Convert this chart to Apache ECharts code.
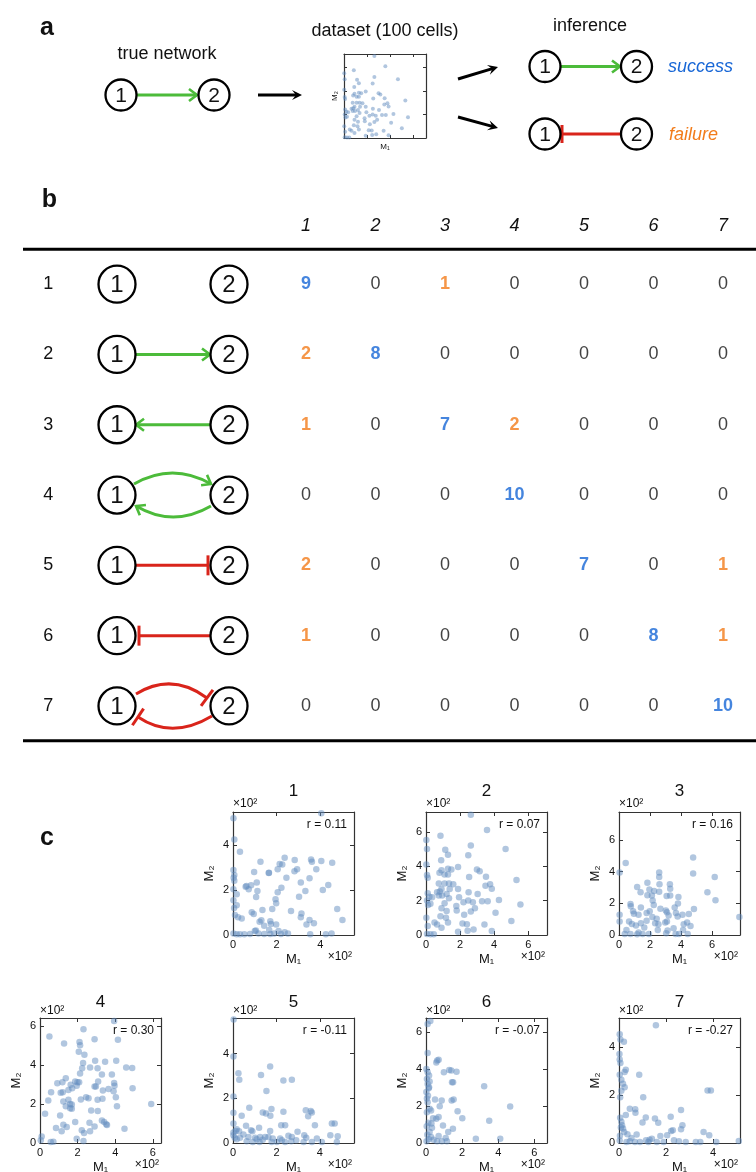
<!DOCTYPE html>
<html>
<head>
<meta charset="utf-8">
<script src="https://cdn.jsdelivr.net/npm/echarts@6/dist/echarts.min.js"></script>
<style>
html, body { margin: 0; padding: 0; background: #fff; }
#main { width: 756px; height: 1172px; }
</style>
</head>
<body>
<div id="main"></div>
<script>
// true networks (rows) and inferred networks (columns)
var netNames = ["1", "2", "3", "4", "5", "6", "7"];
var colNames = ["1", "2", "3", "4", "5", "6", "7"];
// how often each network was inferred (10 datasets per true network)
var counts = [
  [9, 0, 1, 0, 0, 0, 0],
  [2, 8, 0, 0, 0, 0, 0],
  [1, 0, 7, 2, 0, 0, 0],
  [0, 0, 0, 10, 0, 0, 0],
  [2, 0, 0, 0, 7, 0, 1],
  [1, 0, 0, 0, 0, 8, 1],
  [0, 0, 0, 0, 0, 0, 10]
];
var rValues = ["0.11", "0.07", "0.16", "0.30", "-0.11", "-0.07", "-0.27"];

// [M1, M2] in units of 10^2, one list per network
var cells1 = [[4.05,5.41],[0.02,5.19],[0.06,4.25],[0.32,3.70],[1.26,3.26],[2.37,3.44],[2.14,3.16],[2.26,3.14],[2.83,3.33],[3.58,3.36],[3.62,3.26],[4.05,3.29],[4.55,3.21],[0.02,2.89],[0.06,2.67],[0.97,2.80],[1.65,2.77],[1.64,2.76],[2.05,2.92],[2.94,2.92],[2.82,2.84],[2.45,2.55],[3.82,2.92],[3.51,2.52],[0.06,2.41],[0.58,2.15],[0.62,2.18],[0.83,2.21],[0.72,2.03],[1.09,2.33],[1.12,1.96],[2.22,2.10],[2.05,1.90],[3.11,2.34],[3.32,1.96],[4.37,2.22],[4.12,2.00],[0.02,2.03],[0.17,1.81],[1.06,1.69],[1.95,1.59],[1.98,1.41],[3.03,1.70],[1.80,1.16],[1.35,1.11],[0.17,1.32],[0.86,1.01],[0.95,0.93],[2.66,1.07],[3.14,0.96],[3.11,0.79],[4.78,1.16],[5.02,0.67],[0.09,0.89],[0.23,0.79],[0.40,0.73],[1.22,0.59],[1.30,0.66],[1.43,0.41],[1.71,0.61],[1.74,0.49],[1.98,0.47],[1.66,0.22],[1.00,0.18],[1.05,0.20],[2.09,0.18],[2.37,0.12],[2.52,0.07],[3.37,0.47],[3.51,0.67],[3.71,0.52],[0.02,0.07],[0.17,0.03],[0.32,0.03],[0.52,0.03],[0.78,0.04],[1.17,0.07],[1.43,0.04],[1.71,0.04],[1.89,0.07],[2.20,0.04],[3.54,0.03],[4.26,0.03],[4.52,0.07],[0.02,1.55],[0.05,1.20],[0.03,2.55]];
var cells2 = [[2.63,6.99],[3.58,6.10],[0.85,5.77],[0.02,5.52],[0.06,5.00],[1.13,4.95],[1.29,4.67],[2.63,5.20],[2.48,4.63],[4.67,5.00],[0.89,4.34],[0.02,4.10],[1.88,3.96],[1.29,3.85],[1.49,3.81],[0.91,3.77],[0.79,3.62],[1.09,3.52],[1.29,3.52],[0.06,3.49],[0.10,3.33],[2.53,3.37],[2.99,3.81],[3.15,3.71],[3.52,3.39],[3.49,2.86],[3.76,2.95],[3.86,2.69],[5.31,3.20],[0.75,2.99],[1.09,2.99],[1.35,2.99],[1.60,2.95],[1.88,2.67],[1.39,2.67],[0.91,2.67],[0.65,2.48],[0.81,2.53],[0.75,2.29],[0.95,2.29],[1.21,2.38],[0.10,2.42],[0.20,2.23],[0.36,2.19],[0.06,2.00],[0.26,1.81],[0.12,1.75],[1.35,2.13],[1.09,1.85],[0.91,1.56],[1.78,1.68],[1.80,1.43],[1.94,2.19],[2.50,2.48],[3.03,2.38],[2.48,2.00],[2.20,1.90],[2.75,1.90],[2.87,1.56],[2.63,1.37],[3.29,1.96],[3.62,1.96],[4.28,2.04],[5.54,1.77],[4.08,1.30],[2.24,1.18],[1.21,1.39],[0.85,1.09],[1.17,1.01],[1.29,0.72],[0.02,1.01],[0.50,0.72],[0.65,0.61],[0.91,0.42],[0.10,0.53],[2.14,0.67],[2.40,0.63],[3.43,0.61],[5.01,0.82],[1.88,0.19],[2.44,0.25],[2.79,0.32],[3.86,0.23],[0.06,0.06],[0.26,0.05],[0.46,0.04]];
var cells3 = [[0.43,4.53],[0.04,3.94],[4.78,4.89],[4.78,3.87],[6.17,3.66],[5.70,2.70],[6.22,2.19],[7.76,1.13],[2.59,3.94],[2.59,3.66],[2.61,3.19],[3.28,3.19],[3.30,2.91],[1.83,3.30],[1.17,3.02],[1.96,2.87],[2.26,2.77],[2.59,2.72],[1.39,2.70],[1.83,2.51],[2.12,2.49],[3.07,2.45],[3.30,2.49],[3.83,2.40],[2.17,2.17],[2.24,1.89],[0.74,1.96],[0.76,1.81],[1.41,1.74],[3.80,1.98],[3.59,1.74],[2.67,1.66],[3.02,1.55],[4.83,1.64],[1.98,1.49],[1.78,1.38],[0.91,1.49],[0.96,1.34],[1.26,1.28],[0.04,1.28],[3.09,1.43],[3.67,1.38],[4.09,1.28],[4.50,1.32],[3.78,1.17],[3.20,1.23],[2.15,1.13],[2.43,1.02],[2.33,0.74],[2.54,0.68],[2.98,0.79],[3.09,0.85],[1.78,0.89],[0.65,0.85],[0.83,0.70],[1.09,0.60],[0.04,0.85],[1.41,0.74],[4.39,0.79],[4.61,0.57],[4.17,0.68],[0.48,0.32],[1.63,0.47],[2.50,0.32],[3.13,0.28],[4.13,0.32],[3.52,0.43],[1.26,0.15],[0.37,0.06],[0.74,0.06],[1.17,0.04],[1.52,0.06],[1.93,0.06],[3.04,0.11],[3.65,0.06],[3.87,0.06],[4.43,0.06]];
var cells4 = [[3.94,6.28],[2.31,5.85],[0.50,5.48],[2.90,5.34],[4.14,5.31],[1.28,5.12],[2.10,5.20],[2.13,5.03],[2.06,4.69],[2.36,4.54],[2.29,4.11],[2.93,4.23],[3.46,4.18],[4.05,4.23],[2.24,3.84],[2.66,3.89],[3.06,3.84],[4.58,3.89],[4.90,3.86],[2.13,3.58],[3.29,3.52],[3.82,3.52],[1.37,3.33],[1.19,3.12],[0.92,3.07],[1.87,3.16],[1.99,3.12],[2.08,3.12],[1.63,2.99],[1.95,2.95],[3.09,3.16],[3.94,3.09],[3.96,2.95],[2.90,2.90],[2.97,2.90],[1.71,2.82],[1.51,2.73],[1.21,2.61],[1.10,2.58],[0.59,2.61],[3.64,2.78],[3.34,2.70],[3.91,2.66],[4.92,2.82],[4.03,2.35],[3.32,2.27],[3.06,2.22],[2.58,2.30],[2.45,2.35],[2.17,2.24],[0.44,2.18],[1.24,2.13],[1.51,2.22],[1.60,2.01],[1.69,1.98],[4.09,1.89],[5.91,2.01],[1.37,1.89],[1.60,1.79],[1.69,1.76],[0.27,1.50],[1.07,1.42],[2.72,1.67],[3.07,1.64],[3.29,1.16],[3.41,1.08],[3.52,0.96],[3.56,0.93],[1.87,1.08],[2.63,1.04],[1.24,0.94],[1.42,0.82],[0.85,0.77],[1.15,0.61],[2.90,0.85],[4.49,0.73],[2.22,0.65],[2.34,0.51],[2.66,0.60],[1.95,0.22],[2.31,0.10],[0.57,0.05],[0.71,0.07],[0.09,0.34],[0.04,0.14]];
var cells5 = [[0.03,5.53],[0.02,3.88],[0.25,3.13],[0.29,2.83],[1.71,3.43],[1.29,3.05],[2.32,2.80],[2.71,2.83],[1.54,2.33],[0.02,2.08],[0.75,1.58],[0.02,1.35],[1.37,1.37],[1.52,1.32],[1.77,1.52],[1.72,1.22],[2.32,1.40],[3.35,1.47],[3.58,1.43],[3.63,1.37],[3.46,1.20],[0.40,1.22],[0.02,0.87],[0.60,0.77],[0.17,0.62],[0.12,0.54],[0.28,0.53],[0.02,0.47],[0.83,0.57],[0.89,0.53],[1.20,0.68],[1.71,0.54],[2.22,0.80],[2.40,0.80],[3.77,0.80],[4.55,0.87],[4.68,0.87],[2.97,0.50],[2.55,0.32],[2.71,0.27],[3.28,0.35],[3.37,0.23],[4.48,0.35],[4.82,0.30],[3.86,0.20],[0.02,0.35],[0.08,0.23],[0.17,0.17],[0.48,0.38],[0.32,0.23],[0.71,0.27],[1.02,0.24],[1.09,0.17],[1.25,0.27],[1.48,0.27],[1.63,0.27],[1.37,0.15],[1.83,0.20],[2.17,0.20],[2.25,0.12],[2.68,0.08],[2.91,0.12],[3.63,0.05],[0.63,0.08],[0.91,0.05],[1.22,0.05],[1.78,0.05],[2.02,0.05],[2.40,0.05],[3.25,0.05],[4.09,0.05],[4.78,0.05]];
var cells6 = [[0.24,6.59],[0.09,6.42],[0.09,4.86],[0.57,4.35],[0.70,4.50],[0.62,4.45],[0.99,3.82],[1.29,3.94],[1.40,3.91],[1.69,3.85],[1.44,3.28],[1.50,3.28],[3.22,3.06],[0.02,4.00],[0.09,3.82],[0.17,3.64],[0.05,3.46],[0.20,3.32],[0.09,3.19],[0.17,3.01],[0.50,2.35],[0.87,2.29],[1.42,2.29],[1.53,2.35],[0.76,1.99],[0.09,2.20],[0.20,1.85],[0.28,1.76],[0.05,1.66],[4.66,1.97],[1.75,1.72],[2.01,1.34],[0.39,1.34],[0.57,1.31],[0.70,1.40],[3.50,1.20],[0.94,0.95],[0.33,0.82],[1.49,0.77],[1.23,0.59],[0.70,0.38],[1.09,0.27],[2.76,0.23],[4.11,0.23],[0.20,0.59],[0.28,0.32],[0.15,0.20],[0.42,0.18],[0.61,0.09],[0.88,0.09],[1.16,0.09],[0.02,2.75],[0.11,2.55],[0.05,2.40],[0.13,1.10],[0.04,0.90],[0.07,0.45],[0.03,0.10],[0.30,1.05],[0.15,2.95]];
var cells7 = [[1.57,4.90],[0.03,4.52],[0.06,4.31],[0.21,4.21],[0.02,3.70],[0.03,3.47],[0.06,3.33],[0.29,3.05],[0.24,2.95],[0.03,2.84],[0.86,2.84],[0.10,2.63],[0.17,2.46],[0.24,2.32],[0.10,2.17],[3.77,2.18],[3.91,2.18],[1.03,1.90],[0.46,1.43],[0.69,1.40],[0.70,1.26],[0.29,1.16],[0.05,1.05],[0.10,0.88],[0.13,0.74],[1.14,1.06],[1.00,0.85],[1.53,1.02],[1.67,0.84],[2.20,1.09],[2.64,1.37],[2.70,0.74],[2.64,0.57],[2.29,0.53],[2.22,0.50],[3.60,0.46],[3.84,0.32],[0.17,0.60],[0.22,0.46],[0.36,0.36],[0.75,0.35],[0.53,0.21],[1.76,0.29],[2.05,0.32],[1.40,0.18],[1.30,0.14],[1.15,0.11],[2.34,0.11],[2.55,0.07],[5.10,0.08],[0.03,0.10],[0.32,0.04],[0.46,0.07],[0.68,0.04],[0.89,0.04],[1.25,0.04],[1.61,0.04],[1.90,0.04],[2.84,0.04],[3.27,0.04],[3.46,0.04],[4.14,0.04],[0.05,1.90],[0.04,0.30],[0.08,0.65]];

var allCells = [cells1, cells2, cells3, cells4, cells5, cells6, cells7];
// axis maxima [M1, M2] for each panel
var ranges = [[5.55, 5.47], [7.1, 7.15], [7.8, 7.75], [6.43, 6.43], [5.57, 5.6], [6.7, 6.75], [5.15, 5.2]];

var FONT = '"Liberation Sans", "Helvetica Neue", Arial, sans-serif';
var GREEN = "#4cbb3a", RED = "#d9241b", BLUE = "#1766d6", ORANGE = "#f27c1a";
var DOT = "rgba(98,139,190,0.62)";

var grids = [], xAxes = [], yAxes = [], series = [], g = [];

function intLabel(v) {
  return Math.abs(v - Math.round(v)) < 1e-6 ? String(v) : "";
}

// scatter box with ticks on all four sides
function addPlot(data, box, range, small) {
  var gi = grids.length;
  grids.push({ left: box[0], top: box[1], width: box[2], height: box[3], show: false, outerBoundsMode: "none" });
  var axLine = { show: true, onZero: false, lineStyle: { color: "#333", width: 1.2 } };
  var tick = { show: true, inside: true, length: small ? 3 : 4, lineStyle: { color: "#333", width: 1 } };
  var lbl = small ? { show: false } : {
    show: true, fontSize: 11, color: "#111", fontFamily: FONT, margin: 4,
    showMaxLabel: false, formatter: intLabel
  };
  var nameStyle = { fontSize: small ? 8 : 13, color: "#111", fontFamily: FONT };
  var xi = xAxes.length;
  xAxes.push({
    gridIndex: gi, type: "value", position: "bottom", min: 0, max: range[0], interval: 2,
    axisLine: axLine, axisTick: tick, axisLabel: lbl, splitLine: { show: false },
    name: "M₁", nameLocation: "middle", nameGap: small ? 5 : 18, nameTextStyle: nameStyle
  });
  xAxes.push({
    gridIndex: gi, type: "value", position: "top", min: 0, max: range[0], interval: 2,
    axisLine: axLine, axisTick: tick, axisLabel: { show: false }, splitLine: { show: false }
  });
  var yi = yAxes.length;
  yAxes.push({
    gridIndex: gi, type: "value", position: "left", min: 0, max: range[1], interval: 2,
    axisLine: axLine, axisTick: tick, axisLabel: lbl, splitLine: { show: false },
    name: "M₂", nameLocation: "middle", nameRotate: 90, nameGap: small ? 5 : 17, nameTextStyle: nameStyle
  });
  yAxes.push({
    gridIndex: gi, type: "value", position: "right", min: 0, max: range[1], interval: 2,
    axisLine: axLine, axisTick: tick, axisLabel: { show: false }, splitLine: { show: false }
  });
  series.push({
    type: "scatter", xAxisIndex: xi, yAxisIndex: yi, data: data,
    symbolSize: small ? 4 : 6.5, itemStyle: { color: DOT }, silent: true
  });
}

// ---------- drawing helpers ----------
function text(x, y, s, font, fill, align) {
  g.push({
    type: "text", x: x, y: y, z: 20, silent: true,
    style: {
      text: s, font: font, fill: fill || "#111",
      align: align || "center", verticalAlign: "middle",
      textAlign: align || "center", textVerticalAlign: "middle"
    }
  });
}
function node(cx, cy, r, label, fs) {
  g.push({ type: "circle", z: 10, silent: true, shape: { cx: cx, cy: cy, r: r },
    style: { fill: "#fff", stroke: "#000", lineWidth: 2.3 } });
  text(cx, cy + 1, label, fs + "px " + FONT);
}
function line(pts, color, w) {
  g.push({ type: "polyline", z: 5, silent: true, shape: { points: pts },
    style: { stroke: color, lineWidth: w, fill: null } });
}
function curve(p0, c, p1, color) {
  g.push({ type: "bezierCurve", z: 5, silent: true,
    shape: { x1: p0[0], y1: p0[1], cpx1: c[0], cpy1: c[1], x2: p1[0], y2: p1[1] },
    style: { stroke: color, lineWidth: 3, fill: null } });
}
function unit(d) {
  var l = Math.sqrt(d[0] * d[0] + d[1] * d[1]);
  return [d[0] / l, d[1] / l];
}
function vHead(tip, dir, color) {
  var d = unit(dir), n = [-d[1], d[0]], L = 8, W = 6;
  line([[tip[0] - L * d[0] + W * n[0], tip[1] - L * d[1] + W * n[1]], tip,
        [tip[0] - L * d[0] - W * n[0], tip[1] - L * d[1] - W * n[1]]], color, 2.6);
}
function tBar(tip, dir, color, h) {
  var d = unit(dir), n = [-d[1], d[0]], H = h || 10;
  line([[tip[0] + H * n[0], tip[1] + H * n[1]], [tip[0] - H * n[0], tip[1] - H * n[1]]], color, 3);
}
function blackArrow(p0, p1) {
  var d = unit([p1[0] - p0[0], p1[1] - p0[1]]), n = [-d[1], d[0]];
  line([p0, [p1[0] - 5 * d[0], p1[1] - 5 * d[1]]], "#000", 3);
  g.push({ type: "polygon", z: 6, silent: true, shape: { points: [
    p1,
    [p1[0] - 10 * d[0] + 5 * n[0], p1[1] - 10 * d[1] + 5 * n[1]],
    [p1[0] - 6 * d[0], p1[1] - 6 * d[1]],
    [p1[0] - 10 * d[0] - 5 * n[0], p1[1] - 10 * d[1] - 5 * n[1]]
  ] }, style: { fill: "#000" } });
}

// ---------- panel a ----------
text(47, 28, "a", "bold 25px " + FONT);
text(167, 54, "true network", "18px " + FONT);
node(121, 95, 15.5, "1", 21);
node(214, 95, 15.5, "2", 21);
line([[137, 95], [197, 95]], GREEN, 3);
vHead([197, 95], [1, 0], GREEN);
blackArrow([258, 95], [302, 95]);
text(385, 31, "dataset (100 cells)", "18px " + FONT);
addPlot(cells2, [344, 54, 82, 84], ranges[1], true);
blackArrow([458, 79], [498, 67]);
blackArrow([458, 117], [498, 128]);
text(590, 26.5, "inference", "18px " + FONT);
node(545, 66.5, 15.5, "1", 21);
node(636.5, 66.5, 15.5, "2", 21);
line([[561, 66.5], [620, 66.5]], GREEN, 3);
vHead([620, 66.5], [1, 0], GREEN);
text(668, 66.5, "success", "italic 18px " + FONT, BLUE, "left");
node(545, 134, 15.5, "1", 21);
node(636.5, 134, 15.5, "2", 21);
line([[562, 134], [621, 134]], RED, 3);
tBar([562, 134], [-1, 0], RED, 9);
text(669, 134.5, "failure", "italic 18px " + FONT, ORANGE, "left");

// ---------- panel b ----------
text(49.5, 200, "b", "bold 25px " + FONT);
line([[23, 249.3], [756, 249.3]], "#000", 3);
line([[23, 740.7], [756, 740.7]], "#000", 3);

var tableTop = 249, rowH = 70.3;
var X1 = 117, X2 = 229, NR = 18.5;
netNames.forEach(function (nm, i) {
  var y = tableTop + rowH * (i + 0.5);
  node(X1, y, NR, "1", 24);
  node(X2, y, NR, "2", 24);
  if (i === 1) { line([[136, y], [210, y]], GREEN, 3); vHead([210, y], [1, 0], GREEN); }
  if (i === 2) { line([[136, y], [210, y]], GREEN, 3); vHead([136, y], [-1, 0], GREEN); }
  if (i === 3) {
    curve([134, y - 11], [172.5, y - 33], [211, y - 11], GREEN);
    vHead([211, y - 11], [38.5, 22], GREEN);
    curve([211, y + 11], [173, y + 33], [136, y + 11], GREEN);
    vHead([136, y + 11], [-37, -22], GREEN);
  }
  if (i === 4) { line([[136, y], [208, y]], RED, 3); tBar([208, y], [1, 0], RED); }
  if (i === 5) { line([[139, y], [210, y]], RED, 3); tBar([139, y], [-1, 0], RED); }
  if (i === 6) {
    curve([136, y - 12], [172, y - 34], [207, y - 8], RED);
    tBar([207, y - 8], [35, 26], RED);
    curve([212, y + 10], [172, y + 34], [138, y + 11], RED);
    tBar([138, y + 11], [-34, -23], RED);
  }
});

var tableData = [];
counts.forEach(function (row, i) {
  row.forEach(function (v, j) {
    var c = v === 0 ? "#111" : (i === j ? BLUE : ORANGE);
    tableData.push({ value: [j, i, v], label: { color: c, fontWeight: v === 0 ? "normal" : "bold" } });
  });
});
var tg = grids.length;
grids.push({ left: 271.25, top: tableTop, width: 486.5, height: rowH * 7, show: false, outerBoundsMode: "none" });
var txi = xAxes.length;
xAxes.push({
  gridIndex: tg, type: "category", data: colNames, position: "top",
  axisLine: { show: false }, axisTick: { show: false }, splitLine: { show: false },
  axisLabel: { fontSize: 18, fontStyle: "italic", color: "#111", fontFamily: FONT, margin: 14 }
});
var tyi = yAxes.length;
yAxes.push({
  gridIndex: tg, type: "category", data: netNames, inverse: true,
  axisLine: { show: false }, axisTick: { show: false }, splitLine: { show: false },
  axisLabel: { fontSize: 18, color: "#111", fontFamily: FONT, margin: 218 }
});
series.push({
  type: "scatter", xAxisIndex: txi, yAxisIndex: tyi, data: tableData, silent: true,
  symbolSize: 1, itemStyle: { color: "rgba(0,0,0,0)" },
  label: { show: true, position: "inside", fontSize: 18, fontFamily: FONT,
    formatter: function (p) { return String(p.value[2]); } }
});

// ---------- panel c ----------
text(47, 838, "c", "bold 25px " + FONT);
var boxes = [
  [233, 812, 121, 123], [426, 812, 121, 123], [619, 812, 121, 123],
  [40, 1018, 121, 125], [233, 1018, 121, 125], [426, 1018, 121, 125], [619, 1018, 121, 125]
];
allCells.forEach(function (cells, k) {
  var b = boxes[k];
  addPlot(cells, b, ranges[k], false);
  var firstRow = k < 3;
  text(b[0] + b[2] / 2, firstRow ? 791 : 1002, netNames[k], "17px " + FONT);
  text(b[0], firstRow ? 804 : 1011, "×10²", "12px " + FONT, "#111", "left");
  text(b[0] + b[2] - 2, b[1] + b[3] + 22, "×10²", "12px " + FONT, "#111", "right");
  text(b[0] + b[2] - 7, b[1] + 13, "r = " + rValues[k], "12px " + FONT, "#111", "right");
});

var chart = echarts.init(document.getElementById("main"));
chart.setOption({
  animation: false,
  backgroundColor: "#fff",
  grid: grids,
  xAxis: xAxes,
  yAxis: yAxes,
  series: series,
  graphic: { elements: g }
});
</script>
</body>
</html>
